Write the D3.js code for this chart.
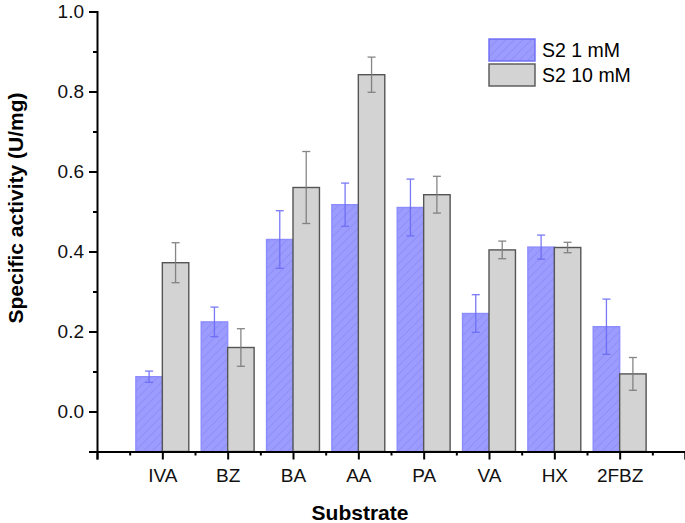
<!DOCTYPE html>
<html>
<head>
<meta charset="utf-8">
<script src="https://cdn.jsdelivr.net/npm/d3@7"></script>
<style>
  body { margin: 0; background: #fff; }
  text { font-family: "Liberation Sans", Arial, sans-serif; }
</style>
</head>
<body>
<div id="chart"></div>
<script>
// data
const substrates = ["IVA", "BZ", "BA", "AA", "PA", "VA", "HX", "2FBZ"];
const seriesNames = ["S2 1 mM", "S2 10 mM"];
const low = [0.087, 0.224, 0.430, 0.517, 0.510, 0.245, 0.411, 0.212];
const lowErr = [0.014, 0.037, 0.072, 0.054, 0.071, 0.047, 0.030, 0.069];
const high = [0.372, 0.160, 0.560, 0.842, 0.542, 0.404, 0.410, 0.094];
const highErr = [0.050, 0.047, 0.090, 0.044, 0.046, 0.022, 0.013, 0.041];
const yTicks = [0.0, 0.2, 0.4, 0.6, 0.8, 1.0];

const width = 685, height = 523;
const margin = {left: 97, top: 11.5, right: 0, bottom: 71.5};

const svg = d3.select("#chart").append("svg")
    .attr("width", width)
    .attr("height", height);

// hatch for the blue series
const defs = svg.append("defs");
const hatch = defs.append("pattern")
    .attr("id", "hatch")
    .attr("patternUnits", "userSpaceOnUse")
    .attr("width", 6)
    .attr("height", 6)
    .attr("patternTransform", "rotate(45)");
hatch.append("rect").attr("width", 6).attr("height", 6).attr("fill", "#9c9cff");
hatch.append("line")
    .attr("x1", 0).attr("y1", 0).attr("x2", 0).attr("y2", 6)
    .attr("stroke", "#8080f0")
    .attr("stroke-width", 1);

const x = d3.scaleLinear().domain([0, 9]).range([margin.left, width - margin.right]);
const y = d3.scaleLinear().domain([-0.1, 1.0]).range([height - margin.bottom, margin.top]);

const barW = (x(1) - x(0)) * 0.405;
const series = [
    {name: seriesNames[0], vals: low, errs: lowErr, fill: "url(#hatch)", stroke: "#8c8cff", err: "#6b6bf5", off: -1},
    {name: seriesNames[1], vals: high, errs: highErr, fill: "#d3d3d3", stroke: "#555", err: "#7a7a7a", off: 0}
];

series.forEach(s => {
    const g = svg.append("g");
    const data = s.vals.map((v, i) => ({i: i, v: v, e: s.errs[i]}));
    g.selectAll("rect").data(data).enter().append("rect")
        .attr("x", d => x(d.i + 1) + s.off * barW)
        .attr("y", d => y(d.v))
        .attr("width", barW)
        .attr("height", d => y(-0.1) - y(d.v))
        .attr("fill", s.fill)
        .attr("stroke", s.stroke)
        .attr("stroke-width", 1.4);

    const cx = d => x(d.i + 1) + s.off * barW + barW / 2;
    const eb = g.selectAll(".err").data(data).enter().append("g")
        .attr("stroke", s.err)
        .attr("stroke-width", 1.3)
        .attr("opacity", 0.9);
    eb.append("line")
        .attr("x1", cx).attr("x2", cx)
        .attr("y1", d => y(d.v + d.e)).attr("y2", d => y(d.v - d.e));
    eb.append("line")
        .attr("x1", d => cx(d) - 4).attr("x2", d => cx(d) + 4)
        .attr("y1", d => y(d.v + d.e)).attr("y2", d => y(d.v + d.e));
    eb.append("line")
        .attr("x1", d => cx(d) - 4).attr("x2", d => cx(d) + 4)
        .attr("y1", d => y(d.v - d.e)).attr("y2", d => y(d.v - d.e));
});

// y axis
svg.append("g")
    .attr("transform", "translate(" + margin.left + ",0)")
    .call(d3.axisLeft(y).tickValues(yTicks).tickFormat(d3.format(".1f")).tickSize(8).tickPadding(5));
svg.append("g")
    .attr("transform", "translate(" + margin.left + ",0)")
    .call(d3.axisLeft(y).tickValues(d3.range(-0.1, 1.0, 0.2)).tickFormat("").tickSize(4))
    .select(".domain").remove();

// x axis
svg.append("g")
    .attr("transform", "translate(0," + y(-0.1) + ")")
    .call(d3.axisBottom(x).tickValues(d3.range(0, 10)).tickFormat(d => substrates[d - 1] || "").tickSize(8).tickPadding(9));
svg.append("g")
    .attr("transform", "translate(0," + y(-0.1) + ")")
    .call(d3.axisBottom(x).tickValues(d3.range(0.5, 9, 1)).tickFormat("").tickSize(4))
    .select(".domain").remove();

svg.selectAll(".domain").attr("stroke", "#000").attr("stroke-width", 2);
svg.selectAll(".tick line").attr("stroke", "#000").attr("stroke-width", 2);
svg.selectAll(".tick text")
    .attr("fill", "#111")
    .style("font-size", "19px")
    .style("font-family", "'Liberation Sans', Arial, sans-serif");

// axis titles
svg.append("text")
    .attr("x", 360).attr("y", 520)
    .attr("text-anchor", "middle")
    .style("font-size", "21px").attr("font-weight", "bold")
    .text("Substrate");
svg.append("text")
    .attr("transform", "translate(23,208) rotate(-90)")
    .attr("text-anchor", "middle")
    .style("font-size", "21px").attr("font-weight", "bold")
    .text("Specific activity (U/mg)");

// legend
const legend = svg.append("g").attr("transform", "translate(489,39)");
series.forEach((s, i) => {
    legend.append("rect")
        .attr("x", 0).attr("y", i * 25)
        .attr("width", 46).attr("height", 22)
        .attr("fill", s.fill)
        .attr("stroke", i === 0 ? "#6b6bf5" : "#555")
        .attr("stroke-width", 1.4);
    legend.append("text")
        .attr("x", 53).attr("y", i * 25 + 18)
        .style("font-size", "19.5px")
        .text(s.name);
});
</script>
</body>
</html>
